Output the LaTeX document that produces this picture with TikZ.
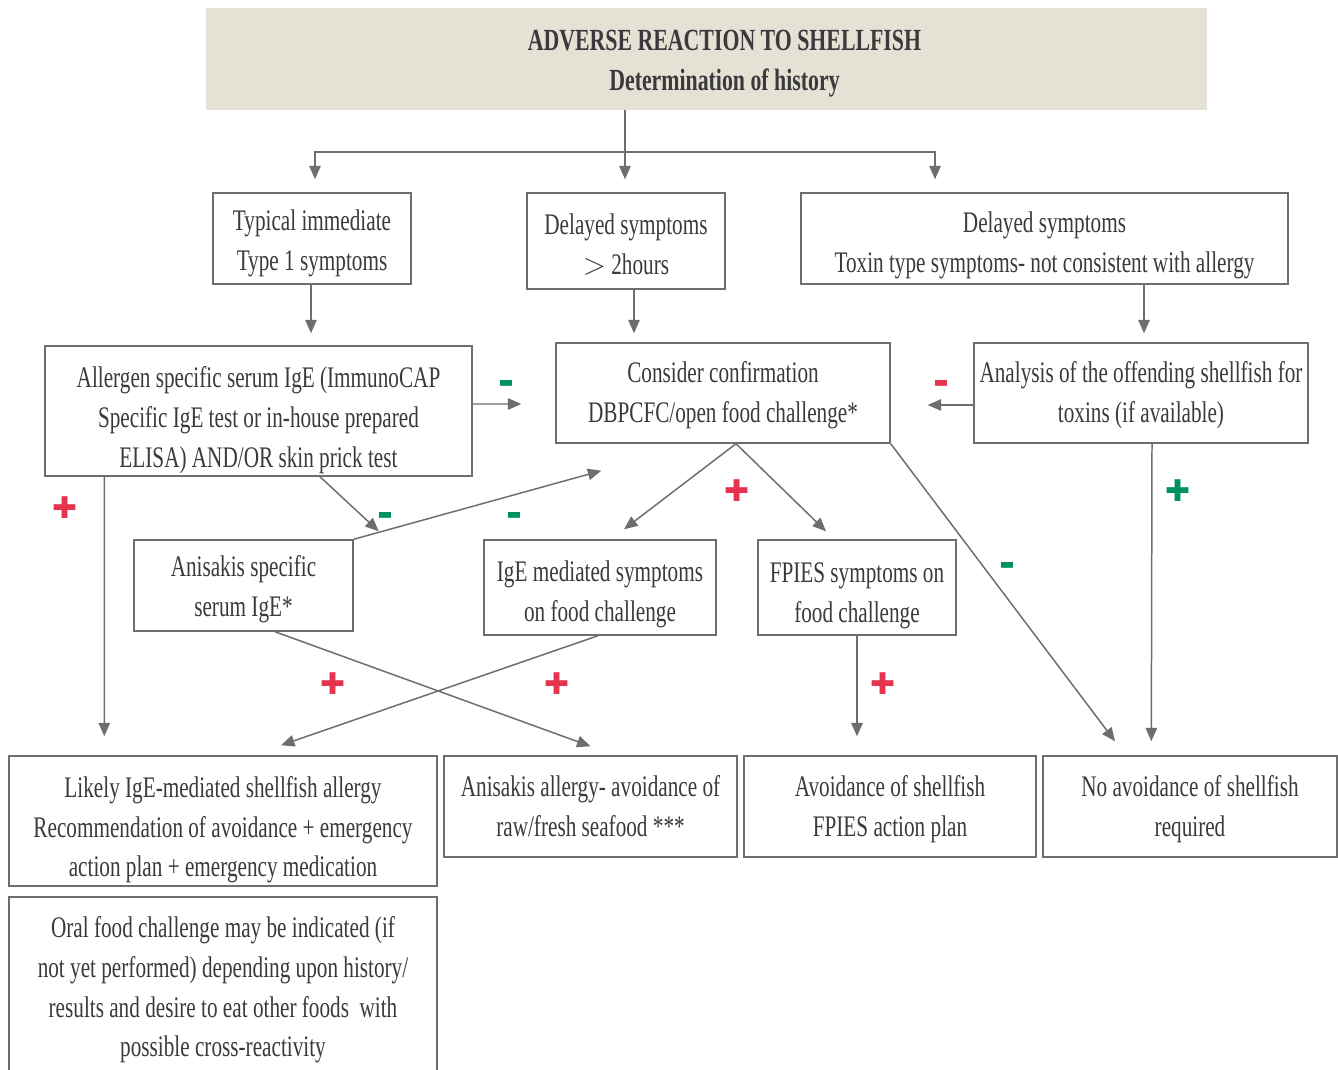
\documentclass[tikz,border=0pt]{standalone}
\usepackage{fontspec}
\setmainfont[FakeStretch=0.71]{Liberation Serif}
\newfontfamily\signfont{DejaVu Sans}
\usetikzlibrary{positioning, arrows.meta}
\definecolor{lineg}{HTML}{6D6E71}
\definecolor{txtg}{HTML}{3A3A3C}
\definecolor{beige}{HTML}{E6E1D5}
\definecolor{sred}{HTML}{E6334F}
\definecolor{sgreen}{HTML}{00925E}
% pushes the lines of a box down by half the given length
\newcommand{\dropln}[1]{\rule{0pt}{\dimexpr0.69em+#1\relax}}
\tikzset{
  fblk/.style={draw=lineg, line width=0.85pt, align=center, text=txtg, inner sep=0pt,
               font=\fontsize{17}{22.7}\selectfont},
  fhead/.style={fill=beige, align=center, text=txtg, inner sep=0pt,
                font=\fontsize{17.5}{22.7}\selectfont\bfseries},
  farr/.style={-{Triangle[length=0.27cm, width=0.23cm]}, draw=lineg, line width=0.85pt},
  fplus/.style={text=sred, font=\signfont\fontsize{17}{17}\selectfont, inner sep=0pt},
  fminus/.style={text=sred, font=\signfont\fontsize{9}{9}\selectfont, inner sep=0pt},
}
\begin{document}
\begin{tikzpicture}[x=0.02cm, y=-0.02cm]
  \useasboundingbox (0,0) rectangle (1338,1070);
  % header
  \node[fhead, minimum width=20.02cm, minimum height=2.04cm] (T) at (706.5,59)
    {\dropln{0.16cm}\hspace*{0.72cm}ADVERSE REACTION TO SHELLFISH\\ \hspace*{0.72cm}Determination of history};
  % first row
  \node[fblk, minimum width=3.96cm, minimum height=1.82cm] (A) at (312,238.5)
    {\dropln{0.2cm}Typical immediate\\ Type 1 symptoms};
  \node[fblk, minimum width=3.96cm, minimum height=1.92cm] (B) at (626,241)
    {\dropln{0.16cm}Delayed symptoms\\ $>$ 2hours};
  \node[fblk, minimum width=9.74cm, minimum height=1.82cm] (C) at (1044.5,238.5)
    {\dropln{0.28cm}Delayed symptoms\\ Toxin type symptoms- not consistent with allergy};
  % second row
  \node[fblk, minimum width=8.54cm, minimum height=2.6cm] (D) at (258.5,411)
    {\dropln{0.36cm}Allergen specific serum IgE (ImmunoCAP\\ Specific IgE test or in-house prepared\\ ELISA) AND/OR skin prick test};
  \node[fblk, minimum width=6.68cm, minimum height=2cm] (E) at (723,393)
    {\dropln{0.08cm}Consider confirmation\\ DBPCFC/open food challenge*};
  \node[fblk, minimum width=6.68cm, minimum height=2cm] (F) at (1141,393)
    {\dropln{0.08cm}Analysis of the offending shellfish for\\ toxins (if available)};
  % third row
  \node[fblk, minimum width=4.38cm, minimum height=1.82cm] (G) at (243.5,585.5)
    {\dropln{0.16cm}Anisakis specific\\ serum IgE*};
  \node[fblk, minimum width=4.64cm, minimum height=1.9cm] (H) at (600,587.5)
    {\dropln{0.28cm}IgE mediated symptoms\\ on food challenge};
  \node[fblk, minimum width=3.96cm, minimum height=1.9cm] (I) at (857,587.5)
    {\dropln{0.32cm}FPIES symptoms on\\ food challenge};
  % outcomes
  \node[fblk, minimum width=8.56cm, minimum height=2.6cm] (J) at (223,821)
    {\dropln{0.36cm}Likely IgE-mediated shellfish allergy\\ Recommendation of avoidance + emergency\\ action plan + emergency medication};
  \node[fblk, minimum width=5.86cm, minimum height=2.02cm] (K) at (590.5,806.5)
    {Anisakis allergy- avoidance of\\ raw/fresh seafood ***};
  \node[fblk, minimum width=5.84cm, minimum height=2.02cm] (L) at (890,806.5)
    {\dropln{0.12cm}Avoidance of shellfish\\ FPIES action plan};
  \node[fblk, minimum width=5.88cm, minimum height=2.02cm] (M) at (1190,806.5)
    {\dropln{0.12cm}No avoidance of shellfish\\ required};
  \node[fblk, minimum width=8.56cm, minimum height=3.6cm] (N) at (223,987)
    {\dropln{0.12cm}Oral food challenge may be indicated (if\\ not yet performed) depending upon history/\\ results and desire to eat other foods\ \ with\\ possible cross-reactivity};
  % connectors
  \coordinate (j) at (625,152);
  \draw[farr, shorten >=0.26cm] (T.south -| j) -- (j |- B.north);
  \draw[farr, shorten >=0.26cm] (j) -| ([xshift=0.06cm]A.north);
  \draw[farr, shorten >=0.26cm] (j) -| ([xshift=-2.19cm]C.north);
  \draw[farr, shorten >=0.24cm] ([xshift=-0.02cm]A.south) -- ([xshift=-0.02cm]A.south |- D.north);
  \draw[farr, shorten >=0.18cm] ([xshift=0.16cm]B.south) -- ([xshift=0.16cm]B.south |- E.north);
  \draw[farr, shorten >=0.18cm] ([xshift=0.06cm]F.north |- C.south) -- ([xshift=0.06cm]F.north);
  \draw[farr, shorten >=0.68cm] ([yshift=0.14cm]D.east) -- ([yshift=-0.22cm]E.west);
  \draw[farr, shorten >=0.74cm] ([yshift=-0.24cm]F.west) -- ([yshift=-0.24cm]E.east);
  \draw[farr] ([xshift=1.23cm]D.south) -- ([xshift=0.5cm, yshift=0.16cm]G.north east);
  \draw[farr] (G.north east) -- ([xshift=0.92cm, yshift=-0.54cm]E.south west);
  \draw[farr, shorten >=0.38cm] ([xshift=1.2cm]D.south west) -- ([xshift=1.92cm]J.north west);
  \draw[farr] ([xshift=0.26cm]E.south) -- ([xshift=0.48cm, yshift=0.2cm]H.north);
  \draw[farr] ([xshift=0.26cm]E.south) -- ([xshift=-0.62cm, yshift=0.16cm]I.north);
  \draw[farr] (E.south east) -- ([xshift=-1.5cm, yshift=0.28cm]M.north);
  \draw[farr, shorten >=0.28cm] ([xshift=0.22cm]F.south) -- ([xshift=2.18cm]M.north west);
  \draw[farr] ([xshift=0.63cm]G.south) -- ([yshift=0.18cm]K.north);
  \draw[farr] ([xshift=-0.04cm]H.south) -- ([xshift=1.16cm, yshift=0.2cm]J.north);
  \draw[farr, shorten >=0.38cm] (I.south) -- (I.south |- L.north);
  % signs
  \node[fminus, text=sgreen] (m1) at (506,384) {▬};
  \node[fminus] (m2) at (941,384) {▬};
  \node[fminus, text=sgreen] (m3) at (385,516) {▬};
  \node[fminus, text=sgreen] (m4) at (514,516) {▬};
  \node[fminus, text=sgreen] (m5) at (1007,566) {▬};
  \node[fplus] (p1) at (65,508) {✚};
  \node[fplus] (p2) at (737,491) {✚};
  \node[fplus, text=sgreen] (p3) at (1178,491) {✚};
  \node[fplus] (p4) at (333,684) {✚};
  \node[fplus] (p5) at (557,684) {✚};
  \node[fplus] (p6) at (883,684) {✚};
\end{tikzpicture}
\end{document}
